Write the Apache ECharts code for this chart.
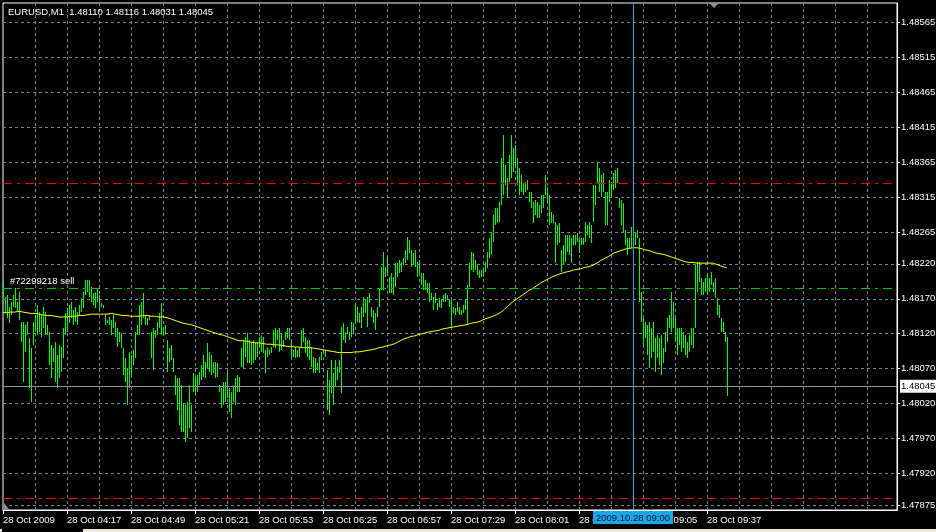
<!DOCTYPE html>
<html><head><meta charset="utf-8">
<script src="https://cdn.jsdelivr.net/npm/echarts@6/dist/echarts.min.js"></script>
<style>html,body{margin:0;padding:0;background:#000;}#c{width:936px;height:532px;}</style>
</head><body><div id="c"></div>
<script>
const symbolName = 'EURUSD,M1';
const lastOpen = 1.48110;
const lastClose = 1.48045;
const firstMinute = 225; // 03:45
const slotCount = 448;
const xTickLabels = ['28 Oct 2009','28 Oct 04:17','28 Oct 04:49','28 Oct 05:21','28 Oct 05:53','28 Oct 06:25','28 Oct 06:57','28 Oct 07:29','28 Oct 08:01','28 Oct 08:33','28 Oct 09:05','28 Oct 09:37'];
const yTickLabels = ['1.48565','1.48515','1.48465','1.48415','1.48365','1.48315','1.48265','1.48220','1.48170','1.48120','1.48070','1.48020','1.47970','1.47920','1.47875'];
const highs = [1.48194,1.48172,1.48175,1.48158,1.48165,1.48175,1.48185,1.48165,1.48180,1.48137,
1.48137,1.48132,1.48137,1.48114,1.48100,1.48137,1.48147,1.48161,1.48151,1.48147,
1.48158,1.48151,1.48132,1.48122,1.48104,1.48100,1.48108,1.48090,1.48104,1.48101,
1.48128,1.48150,1.48157,1.48161,1.48165,1.48154,1.48158,1.48151,1.48161,1.48171,
1.48180,1.48197,1.48197,1.48197,1.48187,1.48178,1.48180,1.48185,1.48175,1.48164,
1.48161,1.48147,1.48140,1.48144,1.48140,1.48147,1.48137,1.48128,1.48122,1.48121,
1.48100,1.48085,1.48071,1.48094,1.48090,1.48097,1.48122,1.48132,1.48161,1.48165,
1.48178,1.48147,1.48142,1.48147,1.48122,1.48128,1.48125,1.48137,1.48150,1.48164,
1.48128,1.48132,1.48111,1.48100,1.48104,1.48085,1.48061,1.48057,1.48057,1.48047,
1.48021,1.48018,1.48022,1.48047,1.48018,1.48064,1.48057,1.48061,1.48065,1.48075,
1.48090,1.48080,1.48107,1.48094,1.48090,1.48080,1.48080,1.48078,1.48047,1.48042,
1.48051,1.48051,1.48065,1.48042,1.48037,1.48047,1.48057,1.48061,1.48058,1.48100,
1.48111,1.48115,1.48121,1.48111,1.48107,1.48111,1.48107,1.48107,1.48115,1.48118,
1.48115,1.48097,1.48101,1.48097,1.48101,1.48125,1.48128,1.48125,1.48128,1.48121,
1.48111,1.48122,1.48128,1.48128,1.48111,1.48097,1.48101,1.48097,1.48101,1.48125,
1.48128,1.48115,1.48111,1.48111,1.48101,1.48087,1.48085,1.48078,1.48087,1.48094,
1.48097,1.48097,1.48068,1.48054,1.48082,1.48064,1.48082,1.48072,1.48082,1.48130,
1.48135,1.48122,1.48130,1.48122,1.48137,1.48135,1.48164,1.48158,1.48150,1.48158,
1.48172,1.48168,1.48172,1.48178,1.48158,1.48154,1.48150,1.48158,1.48185,1.48215,
1.48237,1.48215,1.48230,1.48201,1.48207,1.48201,1.48221,1.48221,1.48225,1.48223,
1.48228,1.48240,1.48258,1.48254,1.48240,1.48235,1.48240,1.48223,1.48225,1.48207,
1.48207,1.48197,1.48193,1.48193,1.48178,1.48172,1.48178,1.48164,1.48171,1.48168,
1.48175,1.48178,1.48175,1.48168,1.48168,1.48158,1.48157,1.48165,1.48158,1.48154,
1.48161,1.48168,1.48190,1.48221,1.48237,1.48235,1.48225,1.48218,1.48211,1.48211,
1.48214,1.48223,1.48237,1.48257,1.48266,1.48290,1.48300,1.48300,1.48308,1.48371,
1.48404,1.48361,1.48343,1.48376,1.48404,1.48386,1.48390,1.48371,1.48357,1.48347,
1.48336,1.48337,1.48340,1.48323,1.48323,1.48308,1.48311,1.48308,1.48304,1.48318,
1.48318,1.48347,1.48330,1.48318,1.48294,1.48290,1.48280,1.48276,1.48278,1.48240,
1.48247,1.48261,1.48261,1.48261,1.48257,1.48261,1.48261,1.48264,1.48257,1.48257,
1.48257,1.48280,1.48276,1.48280,1.48276,1.48333,1.48333,1.48366,1.48357,1.48347,
1.48350,1.48323,1.48323,1.48340,1.48337,1.48350,1.48354,1.48357,1.48314,1.48311,
1.48307,1.48268,1.48257,1.48257,1.48273,1.48268,1.48266,1.48268,1.48257,1.48180,
1.48143,1.48137,1.48132,1.48137,1.48128,1.48137,1.48114,1.48118,1.48114,1.48118,
1.48100,1.48122,1.48142,1.48147,1.48180,1.48165,1.48142,1.48128,1.48128,1.48128,
1.48122,1.48118,1.48108,1.48118,1.48128,1.48128,1.48218,1.48223,1.48223,1.48200,
1.48194,1.48200,1.48207,1.48200,1.48208,1.48194,1.48200,1.48171,1.48161,1.48142,
1.48137,1.48122,1.48116];
const lows = [1.48173,1.48150,1.48143,1.48135,1.48147,1.48158,1.48157,1.48151,1.48140,1.48108,
1.48051,1.48094,1.48118,1.48042,1.48022,1.48104,1.48122,1.48118,1.48122,1.48115,
1.48128,1.48118,1.48118,1.48075,1.48057,1.48079,1.48051,1.48042,1.48057,1.48065,
1.48085,1.48118,1.48122,1.48135,1.48143,1.48132,1.48137,1.48132,1.48147,1.48151,
1.48157,1.48175,1.48180,1.48172,1.48165,1.48161,1.48157,1.48165,1.48154,1.48158,
1.48157,1.48132,1.48135,1.48132,1.48118,1.48128,1.48115,1.48101,1.48108,1.48100,
1.48061,1.48051,1.48018,1.48042,1.48061,1.48075,1.48085,1.48118,1.48118,1.48132,
1.48143,1.48132,1.48132,1.48140,1.48085,1.48068,1.48114,1.48118,1.48128,1.48118,
1.48118,1.48118,1.48065,1.48079,1.48082,1.48065,1.48032,1.48011,1.47989,1.47979,
1.47979,1.47965,1.47971,1.47985,1.47979,1.48037,1.48032,1.48037,1.48047,1.48054,
1.48058,1.48057,1.48071,1.48065,1.48061,1.48064,1.48057,1.48058,1.48037,1.48014,
1.48018,1.48022,1.48028,1.48008,1.48000,1.48022,1.48018,1.48037,1.48037,1.48072,
1.48071,1.48087,1.48078,1.48078,1.48075,1.48078,1.48082,1.48087,1.48101,1.48094,
1.48092,1.48064,1.48087,1.48090,1.48092,1.48101,1.48100,1.48111,1.48094,1.48097,
1.48101,1.48111,1.48114,1.48111,1.48085,1.48087,1.48085,1.48087,1.48087,1.48101,
1.48108,1.48092,1.48087,1.48082,1.48072,1.48064,1.48064,1.48068,1.48064,1.48082,
1.48092,1.48087,1.48011,1.48004,1.48035,1.48018,1.48044,1.48054,1.48064,1.48035,
1.48111,1.48107,1.48121,1.48111,1.48115,1.48121,1.48135,1.48137,1.48135,1.48128,
1.48144,1.48150,1.48130,1.48164,1.48144,1.48135,1.48125,1.48144,1.48158,1.48182,
1.48182,1.48201,1.48207,1.48178,1.48178,1.48175,1.48187,1.48201,1.48207,1.48208,
1.48218,1.48221,1.48225,1.48235,1.48215,1.48218,1.48215,1.48201,1.48207,1.48190,
1.48182,1.48182,1.48178,1.48165,1.48168,1.48154,1.48164,1.48154,1.48158,1.48157,
1.48165,1.48165,1.48168,1.48158,1.48128,1.48150,1.48147,1.48151,1.48147,1.48147,
1.48150,1.48154,1.48132,1.48187,1.48211,1.48208,1.48211,1.48204,1.48200,1.48201,
1.48201,1.48208,1.48214,1.48228,1.48233,1.48251,1.48276,1.48278,1.48280,1.48304,
1.48318,1.48333,1.48316,1.48337,1.48343,1.48351,1.48361,1.48333,1.48318,1.48323,
1.48318,1.48323,1.48326,1.48308,1.48300,1.48278,1.48290,1.48286,1.48286,1.48293,
1.48300,1.48318,1.48308,1.48276,1.48278,1.48278,1.48221,1.48247,1.48250,1.48208,
1.48218,1.48223,1.48237,1.48233,1.48221,1.48247,1.48247,1.48251,1.48235,1.48247,
1.48247,1.48251,1.48261,1.48257,1.48250,1.48280,1.48304,1.48336,1.48323,1.48316,
1.48323,1.48276,1.48276,1.48308,1.48316,1.48326,1.48328,1.48336,1.48300,1.48276,
1.48266,1.48247,1.48233,1.48243,1.48243,1.48230,1.48247,1.48257,1.48165,1.48137,
1.48104,1.48114,1.48089,1.48071,1.48085,1.48094,1.48065,1.48085,1.48075,1.48061,
1.48078,1.48094,1.48108,1.48128,1.48122,1.48128,1.48108,1.48090,1.48104,1.48094,
1.48100,1.48090,1.48085,1.48094,1.48104,1.48100,1.48128,1.48180,1.48194,1.48175,
1.48175,1.48180,1.48175,1.48180,1.48190,1.48180,1.48171,1.48147,1.48143,1.48122,
1.48122,1.48108,1.48031];
const maValues = [1.48150,1.48150,1.48150,1.48150,1.48151,1.48151,1.48151,1.48151,1.48152,1.48152,
1.48151,1.48150,1.48150,1.48149,1.48149,1.48149,1.48149,1.48149,1.48148,1.48148,
1.48147,1.48147,1.48146,1.48146,1.48146,1.48145,1.48145,1.48144,1.48144,1.48144,
1.48144,1.48144,1.48144,1.48145,1.48145,1.48145,1.48145,1.48146,1.48146,1.48146,
1.48146,1.48147,1.48147,1.48148,1.48148,1.48148,1.48148,1.48148,1.48148,1.48148,
1.48148,1.48148,1.48148,1.48149,1.48149,1.48149,1.48148,1.48148,1.48147,1.48147,
1.48146,1.48146,1.48146,1.48145,1.48145,1.48145,1.48145,1.48145,1.48145,1.48146,
1.48146,1.48146,1.48146,1.48146,1.48145,1.48145,1.48145,1.48145,1.48144,1.48144,
1.48144,1.48144,1.48143,1.48142,1.48141,1.48140,1.48139,1.48138,1.48137,1.48136,
1.48135,1.48134,1.48134,1.48133,1.48133,1.48132,1.48131,1.48130,1.48129,1.48128,
1.48127,1.48126,1.48125,1.48124,1.48123,1.48122,1.48121,1.48120,1.48119,1.48118,
1.48118,1.48117,1.48116,1.48115,1.48114,1.48113,1.48112,1.48111,1.48110,1.48110,
1.48110,1.48109,1.48109,1.48108,1.48108,1.48108,1.48107,1.48107,1.48107,1.48106,
1.48106,1.48106,1.48105,1.48105,1.48105,1.48105,1.48104,1.48104,1.48104,1.48103,
1.48103,1.48103,1.48102,1.48102,1.48102,1.48102,1.48101,1.48101,1.48101,1.48101,
1.48100,1.48100,1.48100,1.48100,1.48100,1.48099,1.48099,1.48099,1.48098,1.48098,
1.48097,1.48097,1.48096,1.48095,1.48095,1.48094,1.48094,1.48093,1.48093,1.48093,
1.48093,1.48093,1.48093,1.48093,1.48093,1.48094,1.48094,1.48094,1.48094,1.48095,
1.48095,1.48096,1.48096,1.48097,1.48097,1.48098,1.48098,1.48099,1.48100,1.48100,
1.48101,1.48102,1.48103,1.48103,1.48104,1.48105,1.48106,1.48108,1.48109,1.48110,
1.48112,1.48113,1.48114,1.48115,1.48116,1.48117,1.48117,1.48118,1.48119,1.48120,
1.48120,1.48121,1.48122,1.48122,1.48123,1.48124,1.48124,1.48125,1.48125,1.48126,
1.48127,1.48127,1.48128,1.48129,1.48129,1.48130,1.48130,1.48131,1.48131,1.48132,
1.48132,1.48133,1.48133,1.48134,1.48135,1.48135,1.48136,1.48137,1.48137,1.48138,
1.48140,1.48141,1.48142,1.48143,1.48144,1.48145,1.48146,1.48147,1.48149,1.48151,
1.48153,1.48156,1.48158,1.48161,1.48163,1.48166,1.48168,1.48170,1.48172,1.48174,
1.48176,1.48178,1.48180,1.48182,1.48184,1.48185,1.48187,1.48189,1.48191,1.48193,
1.48195,1.48196,1.48198,1.48199,1.48201,1.48202,1.48203,1.48204,1.48205,1.48206,
1.48207,1.48208,1.48208,1.48209,1.48210,1.48211,1.48211,1.48212,1.48213,1.48213,
1.48214,1.48215,1.48215,1.48216,1.48217,1.48218,1.48219,1.48221,1.48223,1.48225,
1.48227,1.48228,1.48230,1.48231,1.48233,1.48235,1.48236,1.48237,1.48238,1.48239,
1.48240,1.48241,1.48242,1.48242,1.48243,1.48243,1.48243,1.48243,1.48242,1.48242,
1.48241,1.48240,1.48239,1.48239,1.48238,1.48237,1.48236,1.48235,1.48235,1.48234,
1.48233,1.48233,1.48232,1.48231,1.48230,1.48229,1.48228,1.48227,1.48226,1.48225,
1.48224,1.48223,1.48223,1.48222,1.48222,1.48222,1.48221,1.48221,1.48221,1.48221,
1.48221,1.48221,1.48221,1.48221,1.48221,1.48221,1.48220,1.48219,1.48218,1.48217,
1.48216,1.48215,1.48214];
const sellPrice = 1.48185;
const sellText = '#72299218 sell';
const stopLossPrice = 1.48335;
const takeProfitPrice = 1.47885;
const bidPrice = 1.48045;
const cursorIndex = 315;
const cursorText = '2009.10.28 09:00';
const yMin = 1.478678, yMax = 1.485932;

const categories = [];
for (let i = 0; i < slotCount; i++) {
  const m = firstMinute + i;
  categories.push(String(Math.floor(m / 60)).padStart(2, '0') + ':' + String(m % 60).padStart(2, '0'));
}
const barData = highs.map((h, i) => [i, h, lows[i]]);
const yTickValues = yTickLabels.map(Number);
const FONT = "'Liberation Sans',Arial,sans-serif";
const FS = 9.5;
const dashDot = [9, 5, 3, 5];
const GRID = '#778899';

const chart = echarts.init(document.getElementById('c'), null, {renderer: 'canvas'});
const option = {
  animation: false,
  backgroundColor: '#000',
  title: {
    text: symbolName + '  ' + [lastOpen, highs[highs.length - 1], lows[lows.length - 1], lastClose].map(v => v.toFixed(5)).join(' '),
    left: 3, top: 2,
    textStyle: {color: '#fff', fontSize: FS, fontWeight: 'normal', fontFamily: FONT}
  },
  grid: {left: 3, right: 39, top: 3, bottom: 22, show: true, borderColor: '#fff', borderWidth: 1, backgroundColor: '#000', containLabel: false, outerBoundsMode: 'none'},
  xAxis: {
    type: 'category', data: categories, boundaryGap: false,
    axisLine: {lineStyle: {color: '#fff'}},
    axisTick: {show: true, length: 4, interval: (idx) => idx % 32 === 0 && idx < highs.length, lineStyle: {color: '#fff'}},
    axisLabel: {
      interval: (idx) => idx % 32 === 0,
      formatter: (v, idx) => { const k = idx / 32; return (idx % 32 === 0 && k < xTickLabels.length) ? xTickLabels[k] : ''; },
      color: '#fff', fontSize: FS, fontFamily: FONT, align: 'left', margin: 5
    },
    splitLine: {show: true, interval: (idx) => idx % 16 === 0 && idx > 0, lineStyle: {color: GRID, type: [3, 3], width: 1}}
  },
  yAxis: {
    type: 'value', position: 'right', min: yMin, max: yMax,
    axisLine: {show: true, lineStyle: {color: '#fff'}},
    axisTick: {show: true, length: 3, customValues: yTickValues, lineStyle: {color: '#fff'}},
    axisLabel: {customValues: yTickValues, formatter: v => yTickLabels[yTickValues.indexOf(v)] || v.toFixed(5), color: '#fff', fontSize: FS, fontFamily: FONT, margin: 4},
    splitLine: {show: true, lineStyle: {color: GRID, type: [3, 3], width: 1}}
  },
  series: [
    {
      type: 'line', data: [], z: 1, silent: true,
      markLine: {
        silent: true, symbol: 'none', animation: false, precision: 5,
        data: [
          {yAxis: sellPrice, lineStyle: {color: '#00c800', type: dashDot, width: 1},
           label: {show: true, position: 'insideStartTop', formatter: sellText, color: '#fff', fontSize: FS, fontFamily: FONT, distance: 2, padding: [0, 0, 0, 5]}},
          {yAxis: stopLossPrice, lineStyle: {color: '#ff0000', type: dashDot, width: 1}, label: {show: false}},
          {yAxis: takeProfitPrice, lineStyle: {color: '#ff0000', type: dashDot, width: 1}, label: {show: false}},
          {yAxis: bidPrice, lineStyle: {color: '#8c96a3', type: 'solid', width: 1},
           label: {show: true, position: 'end', formatter: bidPrice.toFixed(5), backgroundColor: '#fff', color: '#000', padding: [2, 1, 1, 1], distance: 3, fontSize: FS, fontFamily: FONT}}
        ]
      }
    },
    {
      type: 'custom', z: 2, data: barData, encode: {x: 0, y: [1, 2]}, silent: true,
      renderItem: function (params, api) {
        const i = api.value(0);
        const top = api.coord([i, api.value(1)]);
        const bot = api.coord([i, api.value(2)]);
        const x = Math.round(top[0]);
        const y0 = Math.round(top[1]);
        return {type: 'rect', shape: {x: x, y: y0, width: 1, height: Math.max(1, Math.round(bot[1]) - y0)}, style: {fill: '#00ff00'}};
      }
    },
    {
      type: 'line', z: 3, data: maValues, showSymbol: false, symbol: 'none', silent: true,
      lineStyle: {color: '#ffff00', width: 1},
      markLine: {
        silent: true, symbol: 'none', animation: false,
        data: [
          {xAxis: categories[cursorIndex], lineStyle: {color: '#19a7e6', type: 'solid', width: 1},
           label: {show: true, position: 'start', formatter: cursorText, backgroundColor: '#19a7e6', color: '#001433', padding: [2, 3, 1, 3], distance: 1, fontSize: FS, fontFamily: FONT}}
        ]
      }
    }
  ],
  graphic: [
    {type: 'rect', shape: {x: 83, y: 529, width: 853, height: 3}, style: {fill: '#ece9d8'}, silent: true},
    {type: 'rect', shape: {x: 0, y: 529, width: 2, height: 3}, style: {fill: '#ece9d8'}, silent: true},
    {type: 'polygon', shape: {points: [[709, 3], [719, 3], [714, 8]]}, style: {fill: '#8a8f99'}, silent: true, z: 10},
    {type: 'polygon', shape: {points: [[4, 503], [4, 509], [9, 509]]}, style: {fill: '#8a8f99'}, silent: true, z: 10}
  ]
};
chart.setOption(option);
</script>
</body></html>
